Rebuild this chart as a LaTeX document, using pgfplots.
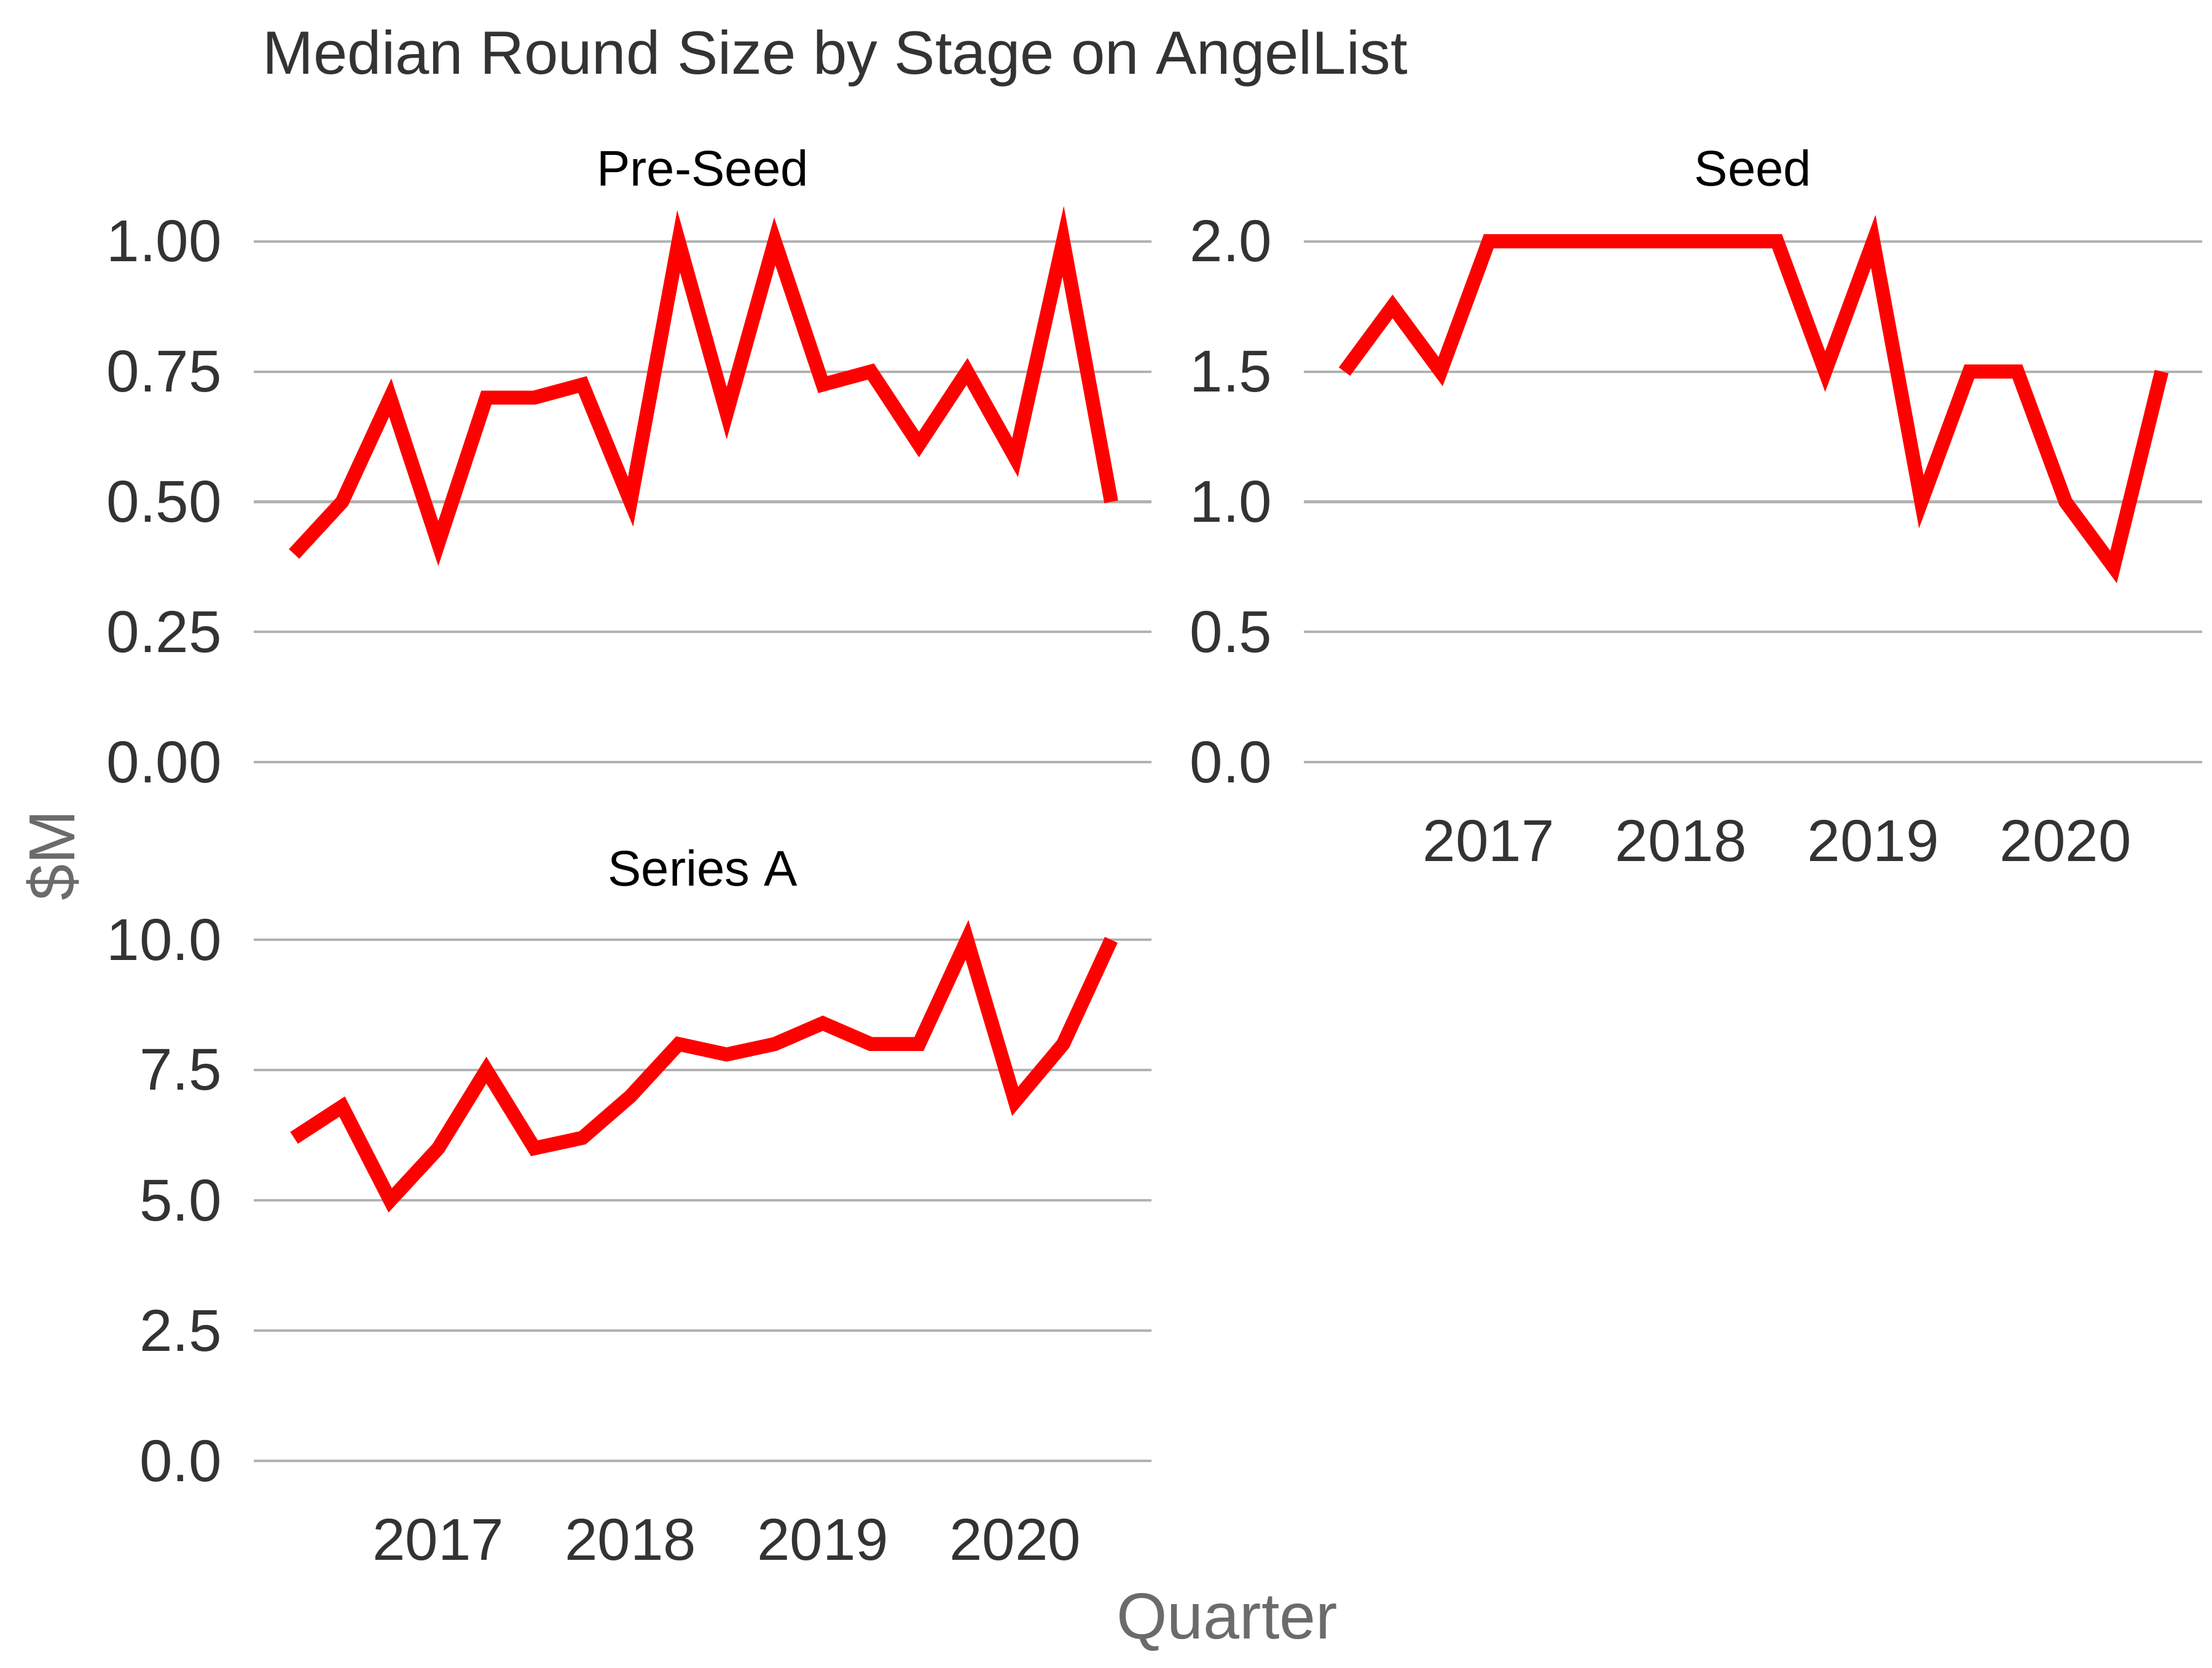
\documentclass[border=0pt]{standalone}
\usepackage{pgfplots}
\pgfplotsset{compat=1.18}
\usepackage{fontspec}
\setmainfont{Liberation Sans}
\definecolor{tk}{HTML}{333333}
\definecolor{ttl}{HTML}{6B6B6B}
\pgfplotsset{
  fac/.style={
    scale only axis, width=6.30cm, height=4.02cm,
    xmin=2016.04, xmax=2020.71,
    axis line style={draw=none},
    major tick length=0pt,
    ymajorgrids, grid style={gray!60, line width=0.5pt},
    tick label style={font=\fontsize{11.8}{13}\selectfont, text=tk},
    /pgf/number format/assume math mode=true,
    xtick={2017,2018,2019,2020},
    xticklabel style={/pgf/number format/1000 sep={}, yshift=-0.1cm},
    yticklabel style={xshift=-0.1cm},
    clip=false,
  },
  ser/.style={color=red, line width=2.8pt, line join=miter, no marks},
}
\begin{document}
\begin{tikzpicture}
\path (0,0) rectangle (15.52,11.64);
\node[anchor=base west, text=tk, font=\fontsize{12.2}{15}\selectfont] at (1.72,11.12) {Median Round Size by Stage on AngelList};
\node[text=ttl, rotate=90, font=\fontsize{13}{15}\selectfont] at (0.37,5.64) {\$M};
\node[text=ttl, font=\fontsize{13}{15}\selectfont] at (8.61,0.26) {Quarter};
\node[font=\fontsize{10}{12}\selectfont] at (4.93,10.46) {Pre-Seed};
\node[font=\fontsize{10}{12}\selectfont] at (12.30,10.46) {Seed};
\node[font=\fontsize{10}{12}\selectfont] at (4.93,5.55) {Series A};

\begin{axis}[fac, at={(1.78cm,6.11cm)}, anchor=south west,
  ymin=-0.05, ymax=1.05, ytick={0,0.25,0.5,0.75,1}, xticklabels={},
  yticklabel style={/pgf/number format/fixed, /pgf/number format/fixed zerofill, /pgf/number format/precision=2}]
\addplot[ser] coordinates {(2016.25,0.40)(2016.5,0.50)(2016.75,0.70)(2017,0.42)(2017.25,0.70)(2017.5,0.70)(2017.75,0.725)(2018,0.50)(2018.25,1.00)(2018.5,0.67)(2018.75,1.00)(2019,0.725)(2019.25,0.75)(2019.5,0.61)(2019.75,0.75)(2020,0.585)(2020.25,1.00)(2020.5,0.50)};
\end{axis}

\begin{axis}[fac, at={(9.15cm,6.11cm)}, anchor=south west,
  ymin=-0.1, ymax=2.1, ytick={0,0.5,1,1.5,2},
  yticklabel style={/pgf/number format/fixed, /pgf/number format/fixed zerofill, /pgf/number format/precision=1}]
\addplot[ser] coordinates {(2016.25,1.5)(2016.5,1.75)(2016.75,1.5)(2017,2)(2017.25,2)(2017.5,2)(2017.75,2)(2018,2)(2018.25,2)(2018.5,2)(2018.75,1.5)(2019,2)(2019.25,1.0)(2019.5,1.5)(2019.75,1.5)(2020,1.0)(2020.25,0.75)(2020.5,1.5)};
\end{axis}

\begin{axis}[fac, at={(1.78cm,1.21cm)}, anchor=south west,
  ymin=-0.5, ymax=10.5, ytick={0,2.5,5,7.5,10},
  yticklabel style={/pgf/number format/fixed, /pgf/number format/fixed zerofill, /pgf/number format/precision=1}]
\addplot[ser] coordinates {(2016.25,6.2)(2016.5,6.8)(2016.75,5.0)(2017,6.0)(2017.25,7.5)(2017.5,6.0)(2017.75,6.2)(2018,7.0)(2018.25,8.0)(2018.5,7.8)(2018.75,8.0)(2019,8.4)(2019.25,8.0)(2019.5,8.0)(2019.75,10.0)(2020,6.9)(2020.25,8.0)(2020.5,10.0)};
\end{axis}
\end{tikzpicture}
\end{document}
